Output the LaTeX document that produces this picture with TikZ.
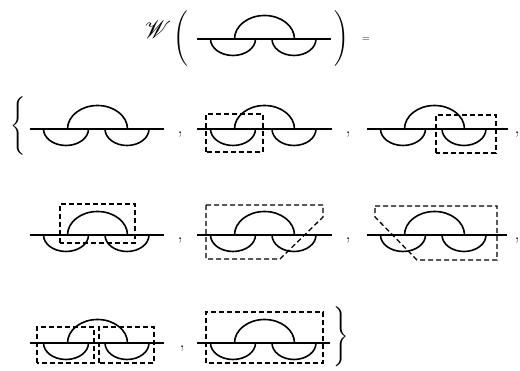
\documentclass[tikz,border=0pt]{standalone}
\usepackage{mathrsfs}
\usepackage{graphicx}
\tikzset{
  strand/.style={line width=1.6pt},
  cutbox/.style={line width=1.3pt, dash pattern=on 5pt off 3pt},
  sep/.style={font=\fontsize{20}{21}\selectfont, inner sep=0pt, anchor=base},
  delim/.style={inner sep=0pt}
}
% #1 = left end of line, #2 = baseline Y, #3 = right end of line
\newcommand\drawtangle[3]{%
  \draw[strand] (#1,#2) -- (#3,#2);
  \draw[strand] (#1+37.5,#2) arc[start angle=180,end angle=0,x radius=30,y radius=23.5];
  \draw[strand] (#1+13.5,#2) arc[start angle=180,end angle=360,x radius=22.5,y radius=16.5];
  \draw[strand] (#1+75,#2) arc[start angle=180,end angle=360,x radius=22,y radius=16.5];
}
\begin{document}
\begin{tikzpicture}[x=1pt,y=1pt]
\useasboundingbox (0,0) rectangle (520,371);
% title
\node (w) at (158,341) {\fontsize{30}{32}\selectfont$\mathscr{W}$};
\node[delim] (lp) at (181,332) {\scalebox{1.85}{$\Bigg($}};
\node[delim] (rp) at (342,332) {\scalebox{1.85}{$\Bigg)$}};
\node (eq) at (366,331) {\fontsize{10}{11}\selectfont$=$};
\drawtangle{197}{332}{331}
% braces
\node[delim] (lb) at (18,245) {\scalebox{1.9}[1.95]{$\Bigg\{$}};
\node[delim] (rb) at (341,34) {\scalebox{1.9}[2]{$\Bigg\}$}};
% row 2
\drawtangle{30}{242}{164}
\node[sep] (c1) at (180,237) {,};
\drawtangle{197}{242}{332}
\draw[cutbox] (206,219) rectangle (263,257);
\node[sep] (c2) at (348,237) {,};
\drawtangle{367}{242}{508}
\draw[cutbox] (436,218) rectangle (496,256);
\node[sep] (c3) at (517,237) {,};
% row 3
\drawtangle{30}{136}{164}
\draw[cutbox] (60,128) rectangle (135,167);
\node[sep] (c4) at (180,131) {,};
\drawtangle{197}{136}{332}
\draw[cutbox] (206,166) -- (323,166) -- (323,154) -- (280,112) -- (206,112) -- cycle;
\node[sep] (c5) at (348,131) {,};
\drawtangle{367}{136}{507}
\draw[cutbox] (375,165) -- (497,165) -- (497,111) -- (417,111) -- (375,154) -- cycle;
\node[sep] (c6) at (517,131) {,};
% row 4
\drawtangle{30}{28}{164}
\draw[cutbox] (37,8) rectangle (94,44);
\draw[cutbox] (99,8) rectangle (154,44);
\node[sep] (c7) at (182,23) {,};
\drawtangle{197}{28}{330}
\draw[cutbox] (206,8) rectangle (323,59);
\end{tikzpicture}
\end{document}
